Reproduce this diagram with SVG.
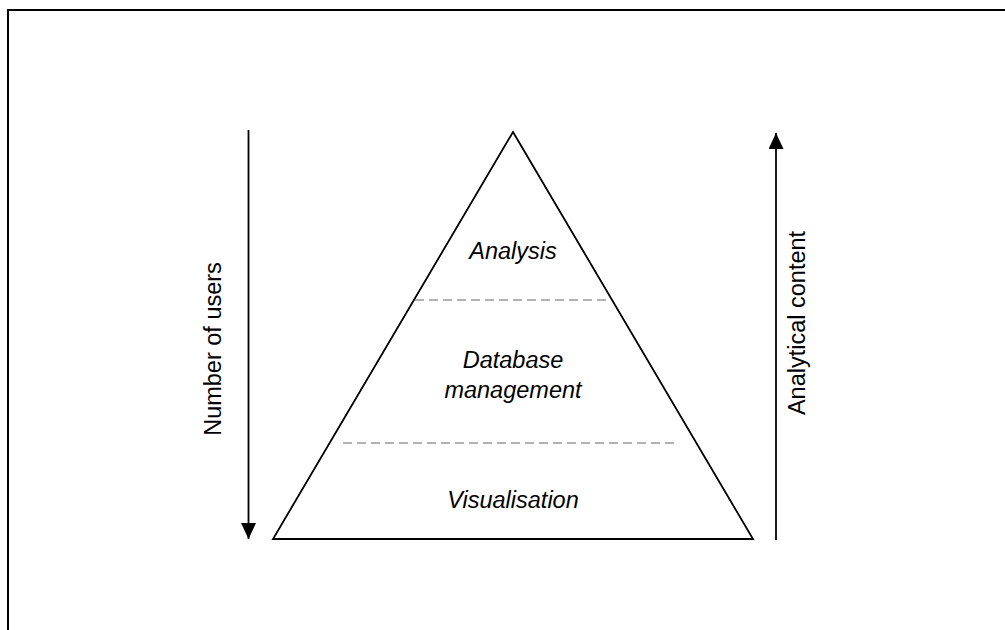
<svg xmlns="http://www.w3.org/2000/svg" width="1005" height="630" viewBox="0 0 1005 630">
  <style>
    .frame { fill: none; stroke: #000; stroke-width: 2; }
    .edge { fill: none; stroke: #000; stroke-width: 1.8; }
    .layer-line { stroke: #999; stroke-width: 1.6; stroke-dasharray: 9 5; }
    .axis { stroke: #000; stroke-width: 1.8; }
    .label { font-family: "Liberation Sans", Arial, sans-serif; font-size: 23.5px; fill: #000; }
    .layer { font-style: italic; text-anchor: middle; }
  </style>
  <defs>
    <marker id="head" viewBox="0 0 16 15" refX="16" refY="7.5" markerWidth="16" markerHeight="15" markerUnits="userSpaceOnUse" orient="auto">
      <path d="M0,0 L16,7.5 L0,15 Z" fill="#000"/>
    </marker>
  </defs>
  <rect width="1005" height="630" fill="#fff"/>
  <!-- outer frame, open past the right and bottom edges -->
  <rect class="frame" x="8" y="10" width="1020" height="640"/>

  <g id="pyramid">
    <polygon class="edge" points="513,132 753,539 273,539"/>
    <line class="layer-line" x1="415" y1="300" x2="608" y2="300"/>
    <line class="layer-line" x1="343" y1="443" x2="677" y2="443"/>
  </g>

  <g id="analysis">
    <text class="label layer" x="513" y="259">Analysis</text>
  </g>
  <g id="database-management">
    <text class="label layer" x="513" y="368">Database</text>
    <text class="label layer" x="513" y="398">management</text>
  </g>
  <g id="visualisation">
    <text class="label layer" x="513" y="508">Visualisation</text>
  </g>

  <g id="connectors">
    <line class="axis" x1="248.5" y1="130" x2="248.5" y2="539" marker-end="url(#head)"/>
    <line class="axis" x1="776" y1="540" x2="776" y2="133" marker-end="url(#head)"/>
  </g>

  <g id="number-of-users">
    <text class="label" text-anchor="middle" transform="translate(221,349) rotate(-90)">Number of users</text>
  </g>
  <g id="analytical-content">
    <text class="label" text-anchor="middle" transform="translate(805,323) rotate(-90)">Analytical content</text>
  </g>
</svg>
